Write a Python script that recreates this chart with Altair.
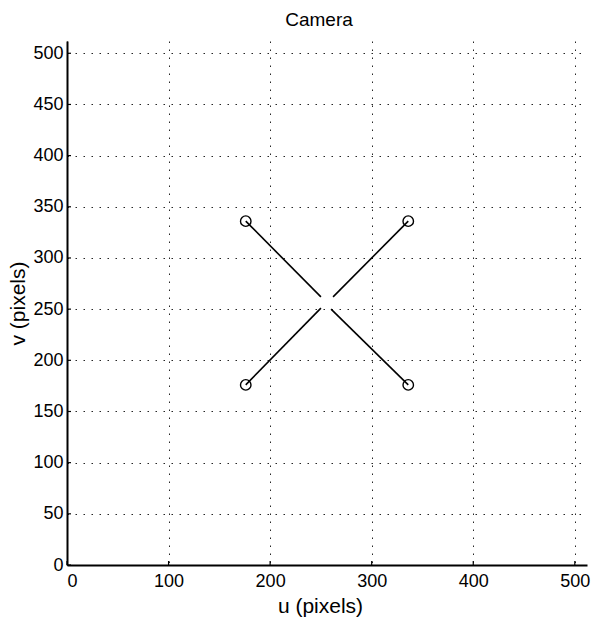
import altair as alt
import pandas as pd

# circle markers (image-plane feature points)
pt_u = [176, 336, 176, 336]
pt_v = [336, 336, 176, 176]

# feature trajectories: start (at circles) -> end (near centre)
seg_u0 = [176, 336, 176, 336]
seg_v0 = [336, 336, 176, 176]
seg_u1 = [250, 262, 250, 260]
seg_v1 = [262, 262, 251, 250]

x_ticks = [0, 100, 200, 300, 400, 500]
y_ticks = [0, 50, 100, 150, 200, 250, 300, 350, 400, 450, 500]

W, H = 520, 524
FONT = "Liberation Sans"

pts = pd.DataFrame({"u": pt_u, "v": pt_v})
segs = pd.DataFrame({"u0": seg_u0, "v0": seg_v0, "u1": seg_u1, "v1": seg_v1})
xt = pd.DataFrame({"t": x_ticks})
yt = pd.DataFrame({"t": y_ticks})

xs = alt.Scale(domain=[0, 512], nice=False, zero=False)
ys = alt.Scale(domain=[0, 512], nice=False, zero=False)

x_axis = alt.Axis(
    values=x_ticks, title="u (pixels)", grid=True, tickSize=0,
    labelPadding=7, titlePadding=5, titleX=253,
)
y_axis = alt.Axis(
    values=y_ticks, title="v (pixels)", grid=True, tickSize=0,
    labelPadding=4, titlePadding=4,
)

base = alt.Chart(pts).mark_point(
    shape="circle", filled=False, size=110, color="black", strokeWidth=1.4, opacity=1
).encode(
    x=alt.X("u:Q", scale=xs, axis=x_axis),
    y=alt.Y("v:Q", scale=ys, axis=y_axis),
)

lines = alt.Chart(segs).mark_rule(color="black", strokeWidth=1.6).encode(
    x=alt.X("u0:Q", scale=xs),
    y=alt.Y("v0:Q", scale=ys),
    x2="u1:Q",
    y2="v1:Q",
)

xtick = alt.Chart(xt).mark_rule(color="black", strokeWidth=1.2).encode(
    x=alt.X("t:Q", scale=xs),
    y=alt.value(H),
    y2=alt.value(H - 4),
)
ytick = alt.Chart(yt).mark_rule(color="black", strokeWidth=1.2).encode(
    y=alt.Y("t:Q", scale=ys),
    x=alt.value(0),
    x2=alt.value(4),
)

chart = alt.layer(lines, base, xtick, ytick).properties(
    width=W,
    height=H,
    background="white",
    title="Camera",
    autosize=alt.AutoSizeParams(type="none"),
    padding={"left": 67, "top": 41, "right": 4, "bottom": 52},
).configure_view(
    stroke=None
).configure_title(
    font=FONT, fontSize=19, fontWeight="normal", color="black",
    anchor="middle", offset=11, dx=-8,
).configure_axis(
    domainColor="black", domainWidth=2,
    gridColor="black", gridOpacity=0.85, gridWidth=1, gridDash=[1.5, 6.5],
    labelFont=FONT, labelFontSize=18, labelColor="black",
    titleFont=FONT, titleFontSize=21, titleFontWeight="normal", titleColor="black",
)

chart.save("out.html", embed_options={"renderer": "svg", "actions": False})
